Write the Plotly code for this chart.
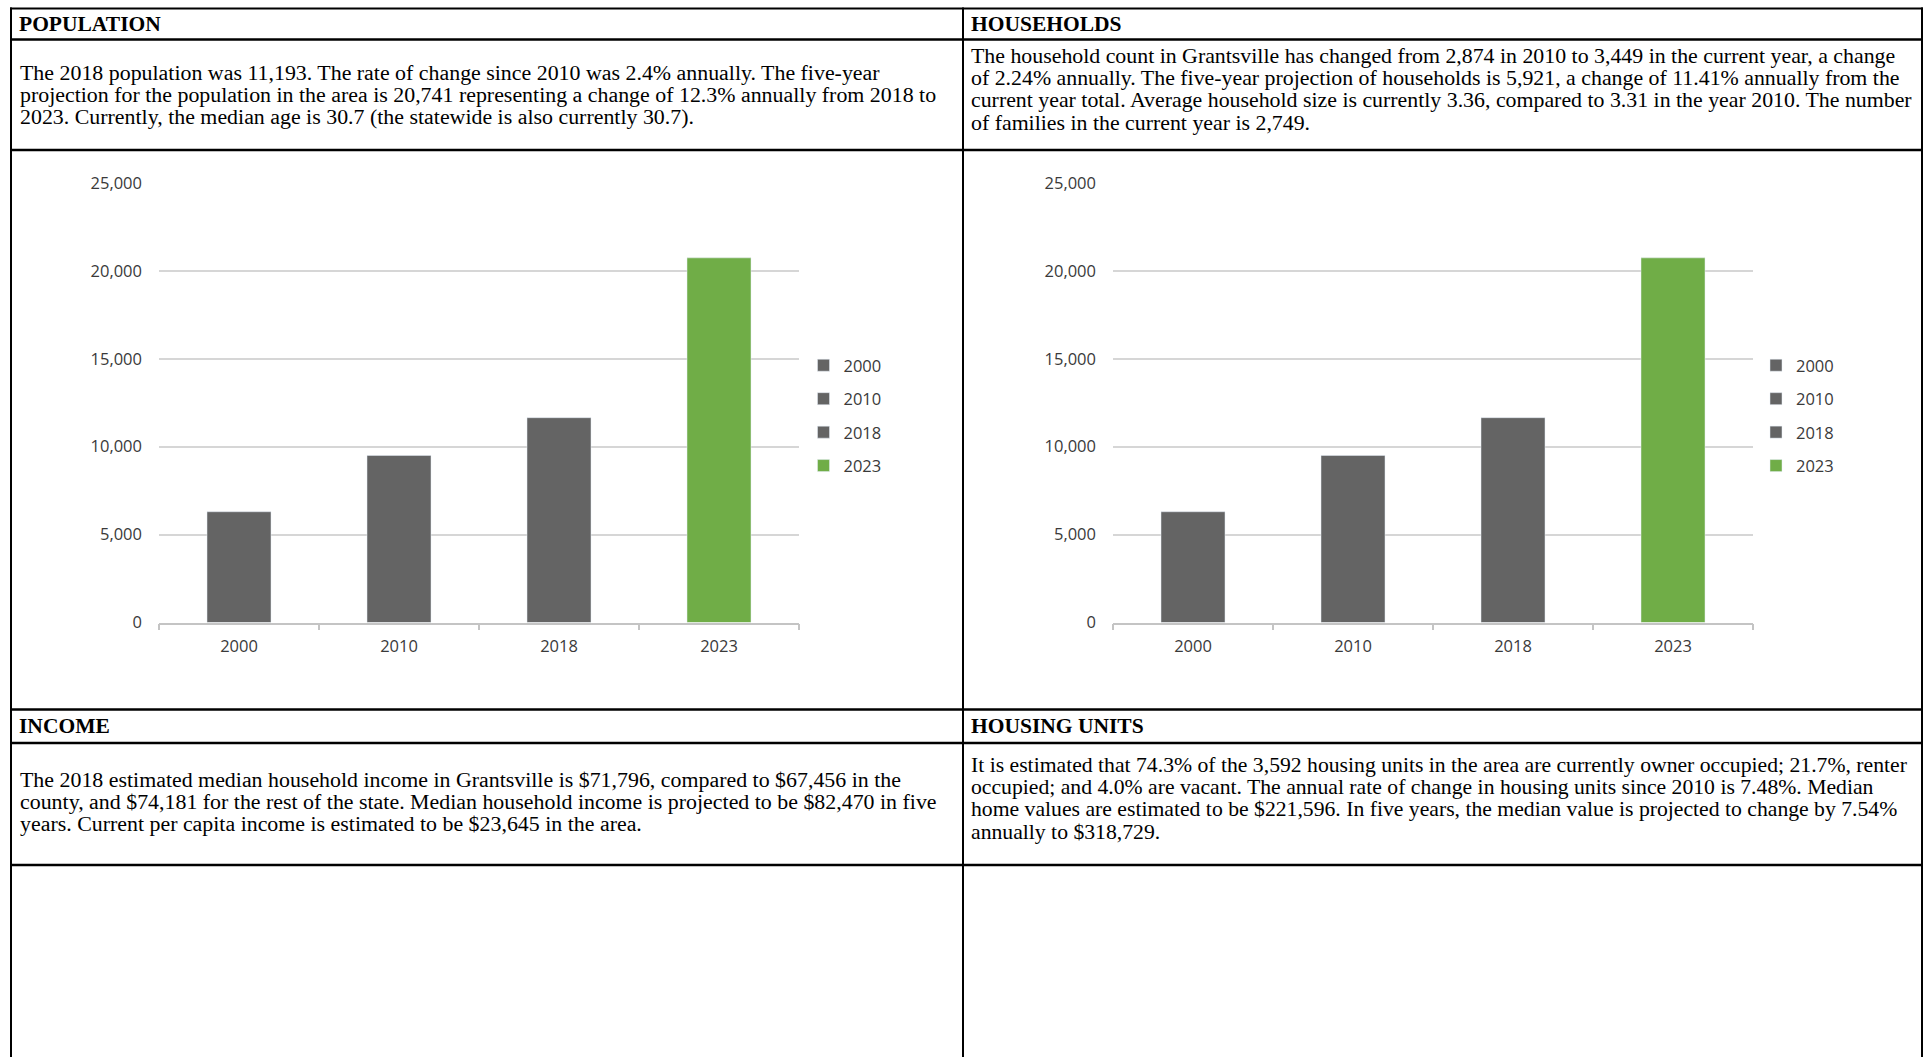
import plotly.graph_objects as go

# ---------------- data ----------------
years = ["2000", "2010", "2018", "2023"]
population = [6300, 9500, 11650, 20741]
households_chart = [6300, 9500, 11650, 20741]
y_ticks = [0, 5000, 10000, 15000, 20000, 25000]

headers = ["POPULATION", "HOUSEHOLDS", "INCOME", "HOUSING UNITS"]
population_text = [
    "The 2018 population was 11,193. The rate of change since 2010 was 2.4% annually. The five-year",
    "projection for the population in the area is 20,741 representing a change of 12.3% annually from 2018 to",
    "2023. Currently, the median age is 30.7 (the statewide is also currently 30.7).",
]
households_text = [
    "The household count in Grantsville has changed from 2,874 in 2010 to 3,449 in the current year, a change",
    "of 2.24% annually. The five-year projection of households is 5,921, a change of 11.41% annually from the",
    "current year total. Average household size is currently 3.36, compared to 3.31 in the year 2010. The number",
    "of families in the current year is 2,749.",
]
income_text = [
    "The 2018 estimated median household income in Grantsville is $71,796, compared to $67,456 in the",
    "county, and $74,181 for the rest of the state. Median household income is projected to be $82,470 in five",
    "years. Current per capita income is estimated to be $23,645 in the area.",
]
housing_text = [
    "It is estimated that 74.3% of the 3,592 housing units in the area are currently owner occupied; 21.7%, renter",
    "occupied; and 4.0% are vacant. The annual rate of change in housing units since 2010 is 7.48%. Median",
    "home values are estimated to be $221,596. In five years, the median value is projected to change by 7.54%",
    "annually to $318,729.",
]

# ---------------- styling / layout helpers ----------------
W, H = 1929, 1057
def px(x):
    return x / W
def py(y):
    return 1 - y / H

GRAY = "#646464"
GREEN = "#70AD47"
bar_colors = [GRAY, GRAY, GRAY, GREEN]
SERIF = "Liberation Serif, Times New Roman, serif"
SANS = "Open Sans, Segoe UI, sans-serif"
LABEL_COLOR = "#3a3a3a"

fig = go.Figure()

for i, yr in enumerate(years):
    fig.add_trace(go.Bar(x=[yr], y=[population[i]], name=yr, marker_color=bar_colors[i],
                         xaxis="x", yaxis="y", legend="legend", legendgroup="p" + yr))
for i, yr in enumerate(years):
    fig.add_trace(go.Bar(x=[yr], y=[households_chart[i]], name=yr, marker_color=bar_colors[i],
                         xaxis="x2", yaxis="y2", legend="legend2", legendgroup="h" + yr))

y_dom = [py(622.5), py(183)]
xaxis_common = dict(type="category", showline=True, linecolor="#c4c4c4", linewidth=1.5,
                    ticks="outside", tickson="boundaries", ticklen=6, tickwidth=1.5,
                    tickcolor="#c4c4c4", showgrid=False, zeroline=False,
                    tickfont=dict(family=SANS, size=16.5, color=LABEL_COLOR),
                    ticklabelstandoff=8, fixedrange=True)
yaxis_common = dict(range=[0, 25000], tickvals=y_ticks, tickformat=",", showgrid=True,
                    gridcolor="#d6d6d6", gridwidth=1.5, zeroline=False, showline=False,
                    ticks="", tickfont=dict(family=SANS, size=16.5, color=LABEL_COLOR),
                    ticklabelstandoff=16, fixedrange=True)

legend_common = dict(xanchor="left", yanchor="top", font=dict(family=SANS, size=16.5, color=LABEL_COLOR),
                     tracegroupgap=9, bgcolor="rgba(0,0,0,0)", itemclick=False, itemdoubleclick=False)

fig.update_layout(
    width=W, height=H, margin=dict(l=0, r=0, t=0, b=0, autoexpand=False),
    paper_bgcolor="white", plot_bgcolor="white",
    barmode="overlay", bargap=0.6, showlegend=True,
    xaxis=dict(domain=[px(159), px(799)], anchor="y", **xaxis_common),
    yaxis=dict(domain=y_dom, anchor="x", **yaxis_common),
    xaxis2=dict(domain=[px(1113), px(1753)], anchor="y2", **xaxis_common),
    yaxis2=dict(domain=y_dom, anchor="x2", **yaxis_common),
    legend=dict(x=px(803.5), y=py(348), **legend_common),
    legend2=dict(x=px(1756), y=py(348), **legend_common),
)

# ---------------- table borders ----------------
LEFT, MID, RIGHT = 11, 963, 1922
TOP = 8.5
row_lines = [39.5, 150, 709.5, 743, 865]
shapes = []
def hline(y, w=2):
    shapes.append(dict(type="line", xref="paper", yref="paper", x0=px(LEFT - 1), x1=px(RIGHT + 1),
                       y0=py(y), y1=py(y), line=dict(color="black", width=w)))
def vline(x, w=2):
    shapes.append(dict(type="line", xref="paper", yref="paper", x0=px(x), x1=px(x),
                       y0=py(TOP - 1), y1=py(H + 2), line=dict(color="black", width=w)))
hline(TOP)
for yy in row_lines:
    hline(yy, 2.5)
for xx in (LEFT, MID, RIGHT):
    vline(xx)
fig.update_layout(shapes=shapes)

# ---------------- text ----------------
ann = []
def add_text(x, y, txt, bold=False, size=21.9):
    ann.append(dict(x=px(x), y=py(y), xref="paper", yref="paper", xanchor="left", yanchor="middle",
                    showarrow=False, text=("<b>%s</b>" % txt) if bold else txt,
                    font=dict(family=SERIF, size=21.5 if bold else size, color="black")))

add_text(17, 24, headers[0], True)
add_text(969, 24, headers[1], True)
add_text(17, 726, headers[2], True)
add_text(969, 726, headers[3], True)

LS = 22.2
for k, line in enumerate(population_text):
    add_text(18, 72 + k * LS, line)
for k, line in enumerate(households_text):
    add_text(969, 56 + k * LS, line, size=21.85)
for k, line in enumerate(income_text):
    add_text(18, 779 + k * LS, line)
for k, line in enumerate(housing_text):
    add_text(969, 765 + k * LS, line, size=21.7)

fig.update_layout(annotations=ann)

fig.write_html("out.html", config={"displayModeBar": False},
               post_script="document.body.style.margin='0';document.body.style.overflow='hidden';")
